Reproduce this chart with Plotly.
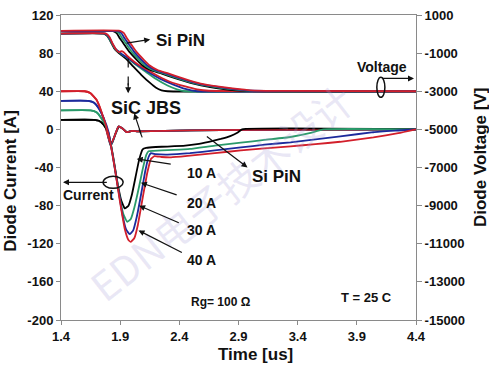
import plotly.graph_objects as go

# ---------------- data ----------------
COLORS = {"10 A": "#000000", "20 A": "#2a9a6a", "30 A": "#1c2a9c", "40 A": "#d21f2b"}

# Si PiN diode current [A]
pin_i_t = {
    "10 A": [1.4, 1.68, 1.72, 1.76, 1.80, 1.84, 1.88, 1.91, 1.94, 1.97, 2.00, 2.03, 2.06, 2.09, 2.12, 2.20, 2.30, 2.45, 2.55, 2.65, 2.75, 2.83, 2.89, 2.93, 4.4],
    "20 A": [1.4, 1.65, 1.70, 1.74, 1.78, 1.82, 1.86, 1.90, 1.93, 1.96, 1.99, 2.02, 2.06, 2.09, 2.12, 2.14, 2.18, 2.25, 2.35, 2.49, 2.70, 2.92, 3.12, 3.34, 3.50, 3.62, 4.4],
    "30 A": [1.4, 1.63, 1.68, 1.72, 1.76, 1.80, 1.84, 1.88, 1.92, 1.95, 1.98, 2.01, 2.04, 2.08, 2.11, 2.14, 2.16, 2.20, 2.30, 2.49, 2.70, 2.92, 3.12, 3.34, 3.55, 3.76, 4.04, 4.25, 4.4],
    "40 A": [1.4, 1.60, 1.65, 1.70, 1.74, 1.78, 1.82, 1.86, 1.90, 1.94, 1.97, 1.99, 2.02, 2.05, 2.09, 2.13, 2.16, 2.19, 2.25, 2.33, 2.49, 2.70, 2.92, 3.12, 3.34, 3.55, 3.76, 4.04, 4.25, 4.4],
}
pin_i_v = {
    "10 A": [10, 10, 9, 5, -3, -28, -58, -75, -83, -80, -68, -50, -32, -21, -19.5, -18.5, -18, -17, -15.5, -13, -10, -7, -3.5, 0, 0],
    "20 A": [20, 20, 18, 12, 3, -15, -44, -74, -90, -97, -94, -82, -60, -42, -27, -23, -22.5, -22, -21.5, -20.5, -17, -14, -11, -8, -4, 0, 0],
    "30 A": [30, 30, 28, 22, 12, -2, -30, -60, -90, -105, -110, -106, -92, -66, -45, -29, -25, -26, -26.5, -25, -22, -19, -16, -13.6, -10.5, -7.3, -3, -1.2, 0],
    "40 A": [40, 40, 38, 31, 19, 4, -16, -45, -77, -105, -116, -118, -114, -100, -72, -45, -31, -28, -29, -29.4, -27.6, -25, -22, -20, -17.8, -15.5, -13, -8.4, -4, 0],
}

# SiC JBS diode current [A]
sic_i_t = {
    "10 A": [1.4, 1.68, 1.72, 1.76, 1.79, 1.81, 1.83, 1.86, 1.89, 1.92, 1.96, 2.00, 2.05, 2.50, 3.00, 4.4],
    "20 A": [1.4, 1.65, 1.70, 1.74, 1.78, 1.80, 1.82, 1.85, 1.885, 1.92, 1.955, 2.00, 2.05, 2.50, 3.00, 4.4],
    "30 A": [1.4, 1.63, 1.68, 1.72, 1.76, 1.795, 1.82, 1.85, 1.885, 1.92, 1.955, 2.00, 2.05, 2.50, 3.00, 4.4],
    "40 A": [1.4, 1.60, 1.65, 1.70, 1.74, 1.79, 1.82, 1.85, 1.885, 1.92, 1.955, 2.00, 2.05, 2.50, 3.00, 4.4],
}
sic_i_v = {
    "10 A": [10, 10, 9, 5, -2, -12, -15, -5, 3, 1, -3, -1.5, -2, -1, -0.5, 0],
    "20 A": [20, 20, 18, 12, 3, -8, -18, -8, 3, 1, -3, -1.5, -2, -1, -0.5, 0],
    "30 A": [30, 30, 28, 22, 12, -6, -17, -8, 3, 1, -3, -1.5, -2, -1, -0.5, 0],
    "40 A": [40, 40, 38, 31, 19, -4, -16, -8, 3, 1, -3, -1.5, -2, -1, -0.5, 0],
}

# Si PiN diode voltage [V]
pin_v_t = {
    "10 A": [1.4, 1.84, 1.87, 1.90, 1.94, 1.98, 2.04, 2.09, 2.16, 2.24, 2.37, 2.52, 2.66, 2.79, 2.94, 3.24, 4.4],
    "20 A": [1.4, 1.86, 1.89, 1.92, 1.96, 2.00, 2.06, 2.11, 2.18, 2.26, 2.39, 2.54, 2.68, 2.81, 2.96, 3.26, 4.4],
    "30 A": [1.4, 1.88, 1.91, 1.94, 1.98, 2.02, 2.08, 2.13, 2.20, 2.28, 2.41, 2.56, 2.70, 2.83, 2.98, 3.28, 4.4],
    "40 A": [1.4, 1.90, 1.93, 1.96, 2.00, 2.04, 2.10, 2.15, 2.22, 2.30, 2.43, 2.58, 2.72, 2.85, 3.00, 3.30, 4.4],
}
pin_v_v = {
    "10 A": [150, 150, 50, -250, -600, -950, -1350, -1650, -1900, -2050, -2325, -2600, -2780, -2900, -2980, -3000, -3000],
    "20 A": [150, 150, 50, -250, -600, -950, -1350, -1650, -1900, -2050, -2325, -2600, -2760, -2880, -2970, -3000, -3000],
    "30 A": [150, 150, 50, -250, -600, -950, -1350, -1650, -1900, -2050, -2325, -2600, -2750, -2860, -2960, -2995, -3000],
    "40 A": [170, 170, 60, -250, -600, -950, -1350, -1650, -1900, -2050, -2325, -2600, -2750, -2850, -2950, -2985, -3000],
}

# SiC JBS diode voltage [V]
sic_v_t = {
    "10 A": [1.4, 1.76, 1.79, 1.82, 1.85, 1.88, 1.91, 1.95, 2.01, 2.08, 2.15, 2.20, 2.25, 2.30, 4.4],
    "20 A": [1.4, 1.77, 1.80, 1.83, 1.86, 1.89, 1.92, 1.96, 2.03, 2.12, 2.20, 2.30, 2.38, 2.45, 4.4],
    "30 A": [1.4, 1.775, 1.805, 1.835, 1.865, 1.895, 1.925, 1.965, 2.04, 2.14, 2.24, 2.35, 2.45, 2.55, 4.4],
    "40 A": [1.4, 1.78, 1.81, 1.84, 1.87, 1.89, 1.91, 1.93, 1.96, 2.03, 2.12, 2.22, 2.32, 2.45, 2.55, 2.65, 4.4],
}
sic_v_v = {
    "10 A": [25, 25, -100, -400, -750, -950, -1100, -1300, -1700, -2150, -2550, -2800, -2950, -3000, -3000],
    "20 A": [25, 25, -150, -500, -800, -950, -1100, -1250, -1600, -2000, -2350, -2700, -2900, -3000, -3000],
    "30 A": [25, 25, -150, -500, -800, -950, -1100, -1250, -1600, -2000, -2350, -2650, -2880, -3000, -3000],
    "40 A": [25, 25, -150, -550, -850, -950, -900, -950, -1150, -1500, -1850, -2200, -2500, -2750, -2900, -2975, -3000],
}

x_ticks = [1.4, 1.9, 2.4, 2.9, 3.4, 3.9, 4.4]
x_tick_labels = ["1.4", "1.9", "2.4", "2.9", "3.4", "3.9", "4.4"]
i_ticks = [-200, -160, -120, -80, -40, 0, 40, 80, 120]
i_tick_labels = ["-200", "-160", "-120", "-80", "-40", "0", "40", "80", "120"]
v_ticks = [-15000, -13000, -11000, -9000, -7000, -5000, -3000, -1000, 1000]
v_tick_labels = ["-15000", "-13000", "-11000", "-9000", "-7000", "-5000", "-3000", "-1000", "1000"]

# ---------------- figure ----------------
FONT = "Liberation Sans, Arial, sans-serif"
fig = go.Figure()
ORDER = ["10 A", "20 A", "30 A", "40 A"]
LW = 1.8
SM = 0.35

def add(tx, vy, k, axis):
    fig.add_trace(go.Scatter(x=tx, y=vy, yaxis=axis, mode="lines",
                             line=dict(color=COLORS[k], width=LW, shape="spline", smoothing=SM),
                             showlegend=False, hoverinfo="skip"))

for k in ORDER:
    add(sic_v_t[k], sic_v_v[k], k, "y2")
for k in ORDER:
    add(pin_v_t[k], pin_v_v[k], k, "y2")
for k in ORDER:
    add(sic_i_t[k], sic_i_v[k], k, "y")
for k in ORDER:
    add(pin_i_t[k], pin_i_v[k], k, "y")

tickfont = dict(family=FONT, size=13, color="#111", weight="bold")
fig.update_layout(
    width=489, height=367,
    margin=dict(l=61, r=73, t=15, b=47),
    paper_bgcolor="white", plot_bgcolor="white",
    xaxis=dict(range=[1.4, 4.4], tickvals=x_ticks, ticktext=x_tick_labels, automargin=False,
               showgrid=False, zeroline=False, showline=True, linecolor="#8a8a8a",
               linewidth=1, mirror=True, ticks="outside", ticklen=4, tickcolor="#8a8a8a",
               tickfont=tickfont),
    yaxis=dict(range=[-200, 120], tickvals=i_ticks, ticktext=i_tick_labels, automargin=False,
               showgrid=False, zeroline=False,
               showline=True, linecolor="#8a8a8a", linewidth=1, ticks="outside",
               ticklen=4, tickcolor="#8a8a8a", tickfont=tickfont),
    yaxis2=dict(range=[-15000, 1000], tickvals=v_ticks, ticktext=v_tick_labels, automargin=False,
                overlaying="y", side="right",
                showgrid=False, zeroline=False, showline=True, linecolor="#8a8a8a",
                linewidth=1, ticks="outside", ticklen=5, tickcolor="#8a8a8a",
                tickfont=tickfont),
)

ann = []
def txt(x, y, s, size, **kw):
    d = dict(x=x, y=y, xref="x", yref="y", text=s, showarrow=False,
             xanchor="center", yanchor="middle",
             font=dict(family=FONT, size=size, color="#111", weight="bold"))
    d.update(kw)
    ann.append(d)

def arrow(x0, y0, x1, y1):
    ann.append(dict(x=x1, y=y1, ax=x0, ay=y0, xref="x", yref="y", axref="x", ayref="y",
                    text="", showarrow=True, arrowhead=2, arrowsize=1, arrowwidth=1.2,
                    arrowcolor="#111"))

def ptxt(x, y, s, size, angle=0, color="#111", family=FONT, weight="bold"):
    ann.append(dict(x=x, y=y, xref="paper", yref="paper", text=s, textangle=angle,
                    showarrow=False, xanchor="center", yanchor="middle",
                    font=dict(family=family, size=size, color=color, weight=weight)))

# axis titles
ptxt(-0.141, 0.456, "Diode Current [A]", 17, angle=-90)
ptxt(1.180, 0.534, "Diode Voltage [V]", 17, angle=-90)
ptxt(0.549, -0.112, "Time [us]", 17)

# watermark
ptxt(0.45, 0.42, "EDN电子技术设计", 40, angle=-38, color="rgba(170,160,215,0.25)",
     family="Noto Sans CJK SC", weight="normal")

txt(2.41, 93.4, "Si PiN", 17)
arrow(1.942, 90.2, 2.154, 94.4)
txt(2.12, 22, "SiC JBS", 18)
arrow(2.08, -6.0, 2.019, 16.8)
txt(4.11, 65, "Voltage", 14)
arrow(4.10, 53.5, 4.383, 53.5)
txt(1.63, -69, "Current", 14)
arrow(1.80, -55.6, 1.417, -55.6)
txt(2.586, -46, "10 A", 14)
txt(2.586, -77, "20 A", 14)
txt(2.586, -106, "30 A", 14)
txt(2.586, -137.5, "40 A", 14)
arrow(2.34, -36.7, 2.04, -31)
arrow(2.39, -69.3, 2.075, -56)
arrow(2.408, -98.6, 2.06, -80)
arrow(2.434, -130, 2.055, -106)
txt(3.22, -49.3, "Si PiN", 17)
arrow(2.62, -6.3, 2.976, -39.9)
txt(2.756, -181.5, "Rg= 100 Ω", 12)
txt(3.985, -176, "T = 25 C", 13)
arrow(1.968, 50, 1.968, 37.8)
fig.update_layout(annotations=ann)

shapes = [
    dict(type="line", xref="x", yref="y", x0=1.968, y0=74.4, x1=1.968, y1=43,
         line=dict(color="#111", width=1.2, dash="dash")),
    dict(type="line", xref="x", yref="y", x0=2.086, y0=-8.4, x1=2.06, y1=0,
         line=dict(color="#111", width=1.2, dash="dash")),
    dict(type="circle", xref="x", yref="y", x0=4.069, x1=4.137, y0=33.6, y1=54.6,
         line=dict(color="#111", width=1.5)),
    dict(type="circle", xref="x", yref="y", x0=1.756, x1=1.925, y0=-61.9, y1=-49.3,
         line=dict(color="#111", width=1.5)),
]
fig.update_layout(shapes=shapes)

fig.write_html("out.html", config={"displayModeBar": False},
               post_script="document.body.style.margin='0';document.body.style.padding='0';")
